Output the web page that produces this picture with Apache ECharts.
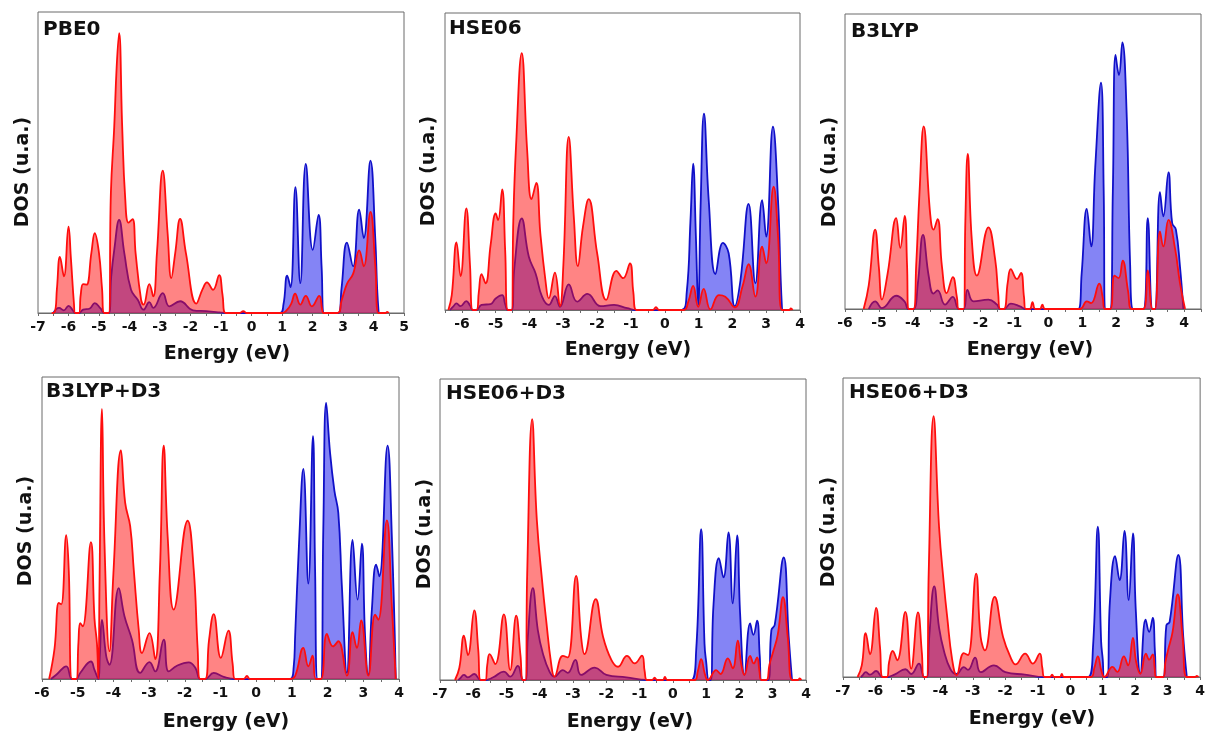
<!DOCTYPE html>
<html>
<head>
<meta charset="utf-8">
<title>DOS panels</title>
<script src="https://cdn.jsdelivr.net/npm/echarts@6/dist/echarts.min.js"></script>
<style>
  html, body { margin: 0; padding: 0; background: #fff; }
  #chart { width: 1208px; height: 733px; }
</style>
</head>
<body>
<div id="chart"></div>
<script>
(function () {
  // [energy (eV), DOS (arb. units, 0-100)]
  const pbe0Red = [
    [-6.55, 0], [-6.45, 0.3], [-6.38, 8], [-6.28, 18.6], [-6.15, 12.2], [-6.0, 28.7], [-5.92, 18], [-5.82, 3], [-5.78, 0],
    [-5.66, 0], [-5.6, 6], [-5.52, 9.6], [-5.41, 9.4], [-5.25, 20], [-5.14, 26.5], [-5.0, 19.9], [-4.9, 8], [-4.83, 0],
    [-4.68, 0], [-4.61, 40], [-4.5, 62], [-4.42, 82], [-4.34, 93.0], [-4.24, 62], [-4.14, 38], [-4.03, 30], [-3.9, 31.2],
    [-3.8, 19.9], [-3.62, 4.4], [-3.54, 2.8], [-3.35, 9.6], [-3.22, 5.5], [-3.1, 20], [-2.91, 47.3], [-2.75, 26.5],
    [-2.63, 11.6], [-2.5, 20], [-2.34, 31.3], [-2.15, 19.9], [-1.81, 3.1], [-1.6, 8], [-1.46, 10.2], [-1.26, 7.7],
    [-1.06, 12.6], [-0.95, 6], [-0.85, 0],
    [-0.4, 0], [-0.27, 0.6], [-0.15, 0], [1.0, 0], [1.17, 1.1], [1.3, 3], [1.43, 6.4], [1.6, 2.8], [1.78, 5.7], [1.98, 2.2],
    [2.22, 5.7], [2.32, 1], [2.36, 0],
    [2.82, 0], [2.95, 4], [3.13, 9.7], [3.33, 13.0], [3.53, 20.8], [3.68, 15.5], [3.9, 33.6], [4.06, 15.5], [4.17, 0],
    [4.4, 0], [4.45, 0.4], [4.5, 0]
  ];
  const pbe0Blue = [
    [-6.5, 0], [-6.31, 1.7], [-6.15, 0.9], [-6.0, 2.4], [-5.85, 0.8], [-5.78, 0], [-5.66, 0], [-5.52, 1.1], [-5.3, 1.5],
    [-5.14, 3.3], [-4.95, 1.5], [-4.83, 0],
    [-4.68, 0], [-4.6, 12], [-4.5, 21], [-4.34, 30.9], [-4.17, 19.9], [-3.95, 7.7], [-3.73, 4.4], [-3.54, 1.1], [-3.35, 3.6],
    [-3.22, 1.7], [-2.91, 6.6], [-2.69, 2.2], [-2.34, 3.9], [-1.92, 0.9], [-1.48, 0.6], [-1.04, 0.2], [-0.85, 0],
    [0.93, 0], [1.05, 3], [1.17, 12.4], [1.28, 8.6], [1.44, 41.8], [1.6, 9.9], [1.78, 49.5], [2.01, 21], [2.2, 32.6],
    [2.3, 15], [2.38, 0],
    [2.85, 0], [2.95, 8], [3.13, 23.4], [3.33, 15.5], [3.53, 34.3], [3.68, 24.9], [3.9, 50.6], [4.06, 24.3], [4.12, 8], [4.17, 0]
  ];

  const hseRed = [
    [-6.4, 0], [-6.3, 5], [-6.16, 22.8], [-6.04, 11.4], [-5.87, 34.2], [-5.76, 15], [-5.68, 0],
    [-5.57, 0], [-5.5, 6], [-5.42, 12.1], [-5.3, 9.0], [-5.15, 22], [-5.0, 32.5], [-4.93, 30.3], [-4.81, 40.6], [-4.72, 20], [-4.64, 0],
    [-4.53, 0], [-4.48, 30], [-4.4, 55], [-4.23, 86.5], [-4.07, 53.8], [-3.94, 37.3], [-3.8, 42.8], [-3.68, 25.8], [-3.53, 10.1],
    [-3.43, 3.9], [-3.25, 12.6], [-3.1, 1.3], [-3.0, 15], [-2.84, 58.3], [-2.69, 31.4], [-2.57, 14.8], [-2.42, 28], [-2.25, 37.3],
    [-2.0, 19.1], [-1.73, 3.4], [-1.43, 13.2], [-1.23, 10.7], [-1.03, 15.7], [-0.93, 6], [-0.84, 0],
    [-0.35, 0], [-0.26, 1.0], [-0.17, 0], [0.56, 0], [0.7, 3], [0.84, 8.1], [0.99, 1.1], [1.15, 7.1], [1.35, 0.2], [1.6, 5.0],
    [1.79, 4.5], [2.07, 0.9], [2.3, 8], [2.48, 15.4], [2.68, 4.5], [2.88, 21.3], [3.0, 15.7], [3.22, 41.5], [3.35, 25], [3.47, 0],
    [3.68, 0], [3.73, 0.5], [3.78, 0]
  ];
  const hseBlue = [
    [-6.35, 0], [-6.26, 1.1], [-6.16, 2.2], [-6.04, 1.3], [-5.87, 3.0], [-5.76, 1.5], [-5.68, 0], [-5.57, 0], [-5.42, 1.7],
    [-5.15, 2.0], [-5.0, 3.9], [-4.81, 5.0], [-4.72, 2], [-4.64, 0],
    [-4.53, 0], [-4.45, 14], [-4.23, 30.8], [-4.02, 17.9], [-3.82, 12.3], [-3.63, 4.5], [-3.43, 1.7], [-3.25, 4.7], [-3.1, 1.1],
    [-2.84, 8.6], [-2.59, 2.8], [-2.29, 5.4], [-1.9, 1.3], [-1.5, 1.7], [-1.11, 0.6], [-0.84, 0],
    [0.5, 0], [0.65, 6], [0.76, 30], [0.84, 49.3], [0.92, 25], [0.99, 1.7], [1.06, 35], [1.16, 66.1], [1.3, 37], [1.5, 12.1],
    [1.72, 22.6], [1.89, 19.1], [2.07, 1.3], [2.24, 10.1], [2.48, 35.7], [2.68, 9.0], [2.88, 37.0], [3.0, 24.7], [3.2, 61.7],
    [3.35, 37], [3.43, 10], [3.47, 0]
  ];

  const b3lypRed = [
    [-5.45, 0], [-5.3, 8], [-5.11, 26.9], [-5.0, 14], [-4.91, 3.2], [-4.74, 12.2], [-4.49, 30.8], [-4.37, 20.7], [-4.24, 31.6],
    [-4.17, 15], [-4.13, 0],
    [-3.98, 0], [-3.9, 15], [-3.8, 40], [-3.68, 61.9], [-3.49, 32.5], [-3.39, 26.9], [-3.27, 30.5], [-3.14, 14.4], [-3.0, 5.4],
    [-2.82, 10.8], [-2.7, 4], [-2.64, 0],
    [-2.5, 0], [-2.45, 30], [-2.38, 52.6], [-2.26, 23.5], [-2.11, 11.3], [-1.77, 27.7], [-1.57, 16.7], [-1.48, 5], [-1.42, 0],
    [-1.31, 0], [-1.2, 9], [-1.11, 13.5], [-0.93, 10.2], [-0.81, 12.2], [-0.72, 4], [-0.67, 0], [-0.55, 0], [-0.47, 2.3],
    [-0.39, 0], [-0.25, 0], [-0.18, 1.5], [-0.1, 0],
    [0.93, 0], [1.13, 2.6], [1.26, 2.0], [1.5, 8.6], [1.6, 4], [1.67, 0], [1.82, 0], [1.95, 11.3], [2.07, 10.5], [2.19, 16.4],
    [2.35, 6], [2.46, 0],
    [2.8, 0], [2.93, 13.1], [3.07, 0], [3.14, 0], [3.29, 26.3], [3.39, 21.2], [3.54, 30.2], [3.74, 20.1], [3.88, 8.8], [4.03, 0]
  ];
  const b3lypBlue = [
    [-5.3, 0], [-5.11, 2.6], [-4.91, 0.3], [-4.49, 4.5], [-4.24, 2.5], [-4.13, 0], [-3.98, 0], [-3.85, 8.8], [-3.7, 25.1],
    [-3.53, 11.1], [-3.39, 5.2], [-3.27, 6.3], [-3.05, 1.5], [-2.82, 4.1], [-2.64, 0], [-2.5, 0], [-2.39, 6.5], [-2.21, 2.6],
    [-1.77, 3.2], [-1.52, 1.5], [-1.42, 0], [-1.31, 0], [-1.11, 1.8], [-0.84, 0.9], [-0.67, 0],
    [0.88, 0], [0.98, 12], [1.13, 33.9], [1.26, 21.2], [1.38, 48], [1.55, 76.7], [1.63, 40], [1.67, 0],
    [1.82, 0], [1.9, 40], [1.98, 86.1], [2.08, 79.3], [2.18, 90.4], [2.31, 65.2], [2.41, 15], [2.5, 0],
    [2.8, 0], [2.93, 30.8], [3.07, 0], [3.14, 0], [3.29, 39.6], [3.39, 31.4], [3.54, 46.3], [3.65, 29.1], [3.76, 26.9],
    [3.88, 14.4], [3.98, 0]
  ];

  const b3lypD3Red = [
    [-5.8, 0], [-5.65, 10], [-5.53, 25.2], [-5.46, 24.7], [-5.32, 47.6], [-5.25, 36], [-5.16, 0],
    [-5.04, 0], [-4.98, 12], [-4.93, 18.5], [-4.86, 17.4], [-4.63, 45.3], [-4.53, 20], [-4.46, 11.7], [-4.42, 0], [-4.39, 30],
    [-4.32, 89.4], [-4.25, 45], [-4.11, 9.2], [-4.0, 35], [-3.79, 75.7], [-3.67, 58.3], [-3.53, 50.6], [-3.43, 36.2],
    [-3.29, 16.3], [-3.2, 8.6], [-2.99, 15.2], [-2.83, 6.6], [-2.7, 35], [-2.59, 77.3], [-2.48, 47.2], [-2.31, 23.0],
    [-1.92, 52.4], [-1.75, 36.2], [-1.64, 10], [-1.57, 0],
    [-1.43, 0], [-1.32, 13], [-1.19, 21.5], [-0.99, 7.0], [-0.78, 16.0], [-0.66, 5], [-0.59, 0], [-0.35, 0], [-0.26, 1.0], [-0.17, 0],
    [0.95, 0], [1.09, 1], [1.32, 10.3], [1.46, 4.2], [1.58, 7.7], [1.67, 0], [1.81, 0], [1.98, 14.9], [2.15, 10.8], [2.3, 12.5],
    [2.54, 1.1], [2.7, 15.5], [2.82, 10.3], [2.94, 19.4], [3.14, 1.1], [3.33, 21.3], [3.42, 19.6], [3.66, 52.5], [3.8, 24], [3.91, 0]
  ];
  const b3lypD3Blue = [
    [-5.75, 0], [-5.6, 1.4], [-5.32, 4.2], [-5.16, 0], [-5.04, 0], [-4.93, 2], [-4.63, 5.8], [-4.53, 3], [-4.42, 0], [-4.38, 8],
    [-4.32, 19.6], [-4.2, 7.5], [-4.11, 4.7], [-3.85, 30.1], [-3.69, 20.8], [-3.48, 13.0], [-3.25, 2.0], [-2.99, 5.6],
    [-2.83, 2.5], [-2.59, 13.0], [-2.45, 2.5], [-2.22, 4.4], [-1.89, 5.5], [-1.7, 3.6], [-1.57, 0], [-1.43, 0], [-1.19, 2.0],
    [-0.91, 0.7], [-0.59, 0],
    [0.95, 0], [1.05, 4], [1.09, 14.1], [1.2, 45], [1.32, 69.6], [1.46, 31.6], [1.59, 80.4], [1.65, 36], [1.72, 0],
    [1.81, 0], [1.88, 50], [1.96, 91.4], [2.07, 74.8], [2.19, 62.4], [2.3, 55.0], [2.4, 30.7], [2.54, 2.0], [2.7, 46.1],
    [2.84, 26.3], [2.96, 44.8], [3.05, 14.1], [3.14, 1.4], [3.24, 23], [3.36, 37.9], [3.45, 34.0], [3.68, 77.3], [3.8, 47], [3.91, 0]
  ];

  const hseD3Red = [
    [-6.55, 0], [-6.42, 4], [-6.28, 14.7], [-6.16, 8.3], [-5.97, 23.1], [-5.85, 10], [-5.78, 0],
    [-5.64, 0], [-5.58, 5], [-5.51, 8.6], [-5.34, 5.3], [-5.08, 21.8], [-4.89, 3.3], [-4.71, 21.4], [-4.58, 8], [-4.51, 0],
    [-4.43, 0], [-4.38, 35], [-4.23, 86.7], [-4.09, 53.2], [-3.91, 30.5], [-3.81, 20.0], [-3.66, 5.5], [-3.56, 1.1],
    [-3.31, 8.0], [-3.16, 7.5], [-2.91, 34.6], [-2.76, 14.4], [-2.66, 8.6], [-2.32, 26.9], [-2.1, 14.4], [-1.85, 6.7],
    [-1.65, 4.4], [-1.38, 8.0], [-1.15, 5.5], [-0.93, 8.1], [-0.85, 3], [-0.78, 0],
    [-0.62, 0], [-0.55, 0.8], [-0.48, 0], [-0.3, 0], [-0.24, 1.0], [-0.17, 0],
    [0.65, 0], [0.75, 3], [0.85, 6.9], [0.96, 2], [1.05, 0], [1.3, 3.3], [1.43, 2], [1.65, 7.2], [1.8, 3.9], [1.95, 13.1],
    [2.05, 5.5], [2.15, 1.7], [2.32, 8.0], [2.43, 5.5], [2.53, 7.5], [2.6, 3], [2.66, 0],
    [2.81, 0], [2.9, 5], [3.0, 8.9], [3.15, 15], [3.31, 27.5], [3.45, 14.4], [3.59, 0], [3.76, 0], [3.81, 0.5], [3.86, 0]
  ];
  const hseD3Blue = [
    [-6.45, 0], [-6.4, 0.5], [-6.28, 1.7], [-6.16, 0.9], [-5.97, 2.0], [-5.78, 0], [-5.64, 0], [-5.4, 0.9], [-5.08, 2.8],
    [-4.89, 1.1], [-4.66, 4.7], [-4.55, 1], [-4.51, 0],
    [-4.43, 0], [-4.36, 14.4], [-4.21, 30.5], [-4.06, 16.6], [-3.91, 8.9], [-3.71, 2.8], [-3.56, 1.1], [-3.31, 3.3],
    [-3.16, 2.4], [-2.93, 6.7], [-2.76, 1.7], [-2.35, 4.1], [-2.0, 1.7], [-1.4, 0.9], [-0.78, 0],
    [0.55, 0], [0.7, 10], [0.85, 50.1], [0.95, 12], [1.0, 6], [1.08, 0], [1.14, 0], [1.22, 25], [1.38, 40.5], [1.52, 34.1],
    [1.67, 49.0], [1.8, 25.5], [1.93, 48.0], [2.02, 22], [2.15, 1.7], [2.32, 18.8], [2.42, 15.0], [2.53, 19.7], [2.61, 8], [2.66, 0],
    [2.86, 0], [2.96, 16.6], [3.06, 18.3], [3.33, 40.7], [3.48, 14.4], [3.58, 0]
  ];

  const hseD3bRed = [
    [-6.55, 0], [-6.42, 4], [-6.3, 14.7], [-6.17, 7.6], [-5.98, 23.1], [-5.86, 10], [-5.78, 0],
    [-5.65, 0], [-5.58, 5], [-5.47, 8.7], [-5.33, 5.6], [-5.08, 21.8], [-4.9, 2.8], [-4.69, 21.6], [-4.57, 8], [-4.51, 0],
    [-4.42, 0], [-4.36, 35], [-4.21, 87.2], [-4.04, 50], [-3.89, 30.7], [-3.79, 20], [-3.64, 6], [-3.5, 0.6], [-3.28, 8.0],
    [-3.15, 7.3], [-2.9, 34.6], [-2.76, 13.4], [-2.63, 8.9], [-2.33, 26.8], [-2.07, 13.4], [-1.82, 6.1], [-1.69, 4.2],
    [-1.39, 7.8], [-1.15, 4.5], [-0.94, 7.8], [-0.86, 3], [-0.79, 0],
    [-0.62, 0], [-0.56, 0.8], [-0.5, 0], [-0.32, 0], [-0.26, 1.0], [-0.2, 0],
    [0.63, 0], [0.74, 3], [0.85, 6.9], [0.96, 2], [1.05, 0], [1.3, 3.4], [1.45, 1.7], [1.65, 6.9], [1.78, 3.9], [1.93, 13.1],
    [2.03, 5], [2.16, 1.1], [2.33, 7.8], [2.43, 5.8], [2.54, 7.6], [2.6, 3], [2.64, 0],
    [2.86, 0], [2.93, 5], [3.01, 8.9], [3.15, 15], [3.31, 27.6], [3.46, 13.4], [3.59, 0], [3.85, 0], [3.9, 0.4], [3.95, 0]
  ];
  const hseD3bBlue = [
    [-6.45, 0], [-6.4, 0.5], [-6.3, 1.6], [-6.17, 0.8], [-5.98, 2.0], [-5.78, 0], [-5.65, 0], [-5.4, 0.9], [-5.08, 2.6],
    [-4.9, 1.0], [-4.66, 4.5], [-4.55, 1], [-4.51, 0],
    [-4.42, 0], [-4.34, 14], [-4.19, 30.3], [-4.04, 16.4], [-3.89, 8.7], [-3.69, 2.6], [-3.5, 1.0], [-3.28, 3.3], [-3.15, 2.4],
    [-2.93, 6.5], [-2.76, 1.6], [-2.35, 3.9], [-2.0, 1.6], [-1.4, 0.8], [-0.79, 0],
    [0.55, 0], [0.7, 10], [0.85, 50.3], [0.95, 12], [1.0, 6], [1.05, 0], [1.14, 0], [1.22, 25], [1.38, 40.4], [1.52, 32.4],
    [1.67, 48.9], [1.8, 25.7], [1.93, 48.0], [2.02, 22], [2.16, 1.1], [2.32, 19.2], [2.43, 15.1], [2.54, 19.8], [2.61, 8], [2.66, 0],
    [2.86, 0], [2.96, 17.3], [3.06, 18.4], [3.33, 40.8], [3.48, 13.4], [3.59, 0]
  ];

  const titles = ['PBE0', 'HSE06', 'B3LYP', 'B3LYP+D3', 'HSE06+D3', 'HSE06+D3'];
  const xRanges = [[-7, 5], [-6.5, 4], [-6, 4.5], [-6, 4], [-7, 4], [-7, 4]];
  const redSets = [pbe0Red, hseRed, b3lypRed, b3lypD3Red, hseD3Red, hseD3bRed];
  const blueSets = [pbe0Blue, hseBlue, b3lypBlue, b3lypD3Blue, hseD3Blue, hseD3bBlue];
  const xName = 'Energy (eV)';
  const yName = 'DOS (u.a.)';

  // layout of each panel (pixels)
  const layout = [
    { grid: { left: 38, top: 12, width: 366, height: 301 }, title: [43, 20], yName: [23, 172], xName: [227, 354] },
    { grid: { left: 445, top: 13, width: 355, height: 297 }, title: [449, 19], yName: [429, 171], xName: [628, 350] },
    { grid: { left: 845, top: 14, width: 356, height: 295 }, title: [851, 22], yName: [830, 172], xName: [1030, 350] },
    { grid: { left: 42, top: 377, width: 357, height: 302 }, title: [46, 382], yName: [26, 531], xName: [226, 722] },
    { grid: { left: 440, top: 379, width: 366, height: 301 }, title: [446, 384], yName: [425, 534], xName: [630, 722] },
    { grid: { left: 843, top: 378, width: 364, height: 299 }, title: [849, 383], yName: [829, 532], xName: [1032, 719] }
  ];

  const FONT = '"DejaVu Sans", sans-serif';
  const AXIS_COLOR = '#6b6b6b';

  const chart = echarts.init(document.getElementById('chart'), null, { renderer: 'canvas' });

  const grids = layout.map(l => Object.assign({
    show: true, borderColor: AXIS_COLOR, borderWidth: 1, backgroundColor: 'transparent'
  }, l.grid));

  const xAxes = xRanges.map((r, i) => ({
    type: 'value',
    gridIndex: i,
    min: r[0],
    max: r[1],
    interval: 0.5,
    axisLine: { show: true, onZero: false, lineStyle: { color: AXIS_COLOR, width: 1 } },
    axisTick: { show: true, length: 3, lineStyle: { color: AXIS_COLOR } },
    splitLine: { show: false },
    axisLabel: {
      interval: 0,
      margin: 7,
      color: '#111',
      fontFamily: FONT,
      fontWeight: 'bold',
      fontSize: 14,
      formatter: v => (Math.abs(v - Math.round(v)) < 1e-6 ? String(Math.round(v)) : '')
    }
  }));

  const yAxes = xRanges.map((r, i) => ({
    type: 'value', gridIndex: i, min: 0, max: 100, show: false
  }));

  // blue drawn first, red on top, so overlaps turn purple
  const series = [];
  redSets.forEach((red, i) => {
    series.push({
      type: 'line', xAxisIndex: i, yAxisIndex: i, data: blueSets[i], z: 2,
      smooth: 0.45, symbol: 'none', silent: true,
      lineStyle: { color: '#1010c8', width: 1.8 },
      areaStyle: { color: '#0a0aeb', opacity: 0.5 }
    });
    series.push({
      type: 'line', xAxisIndex: i, yAxisIndex: i, data: red, z: 3,
      smooth: 0.45, symbol: 'none', silent: true,
      lineStyle: { color: '#ff0d0d', width: 1.8 },
      areaStyle: { color: '#ff0a0a', opacity: 0.5 }
    });
  });

  const graphic = [];
  layout.forEach((l, i) => {
    graphic.push({
      type: 'text', x: l.title[0], y: l.title[1], silent: true,
      style: { text: titles[i], fill: '#111', font: 'bold 20px ' + FONT, align: 'left', verticalAlign: 'top' }
    });
    graphic.push({
      type: 'text', x: l.yName[0], y: l.yName[1], rotation: Math.PI / 2, silent: true,
      style: { text: yName, fill: '#111', font: 'bold 19px ' + FONT, align: 'center', verticalAlign: 'middle' }
    });
    graphic.push({
      type: 'text', x: l.xName[0], y: l.xName[1], silent: true,
      style: { text: xName, fill: '#111', font: 'bold 19px ' + FONT, align: 'center', verticalAlign: 'middle' }
    });
  });

  chart.setOption({
    animation: false,
    backgroundColor: '#fff',
    grid: grids,
    xAxis: xAxes,
    yAxis: yAxes,
    series: series,
    graphic: graphic
  });
})();
</script>
</body>
</html>
